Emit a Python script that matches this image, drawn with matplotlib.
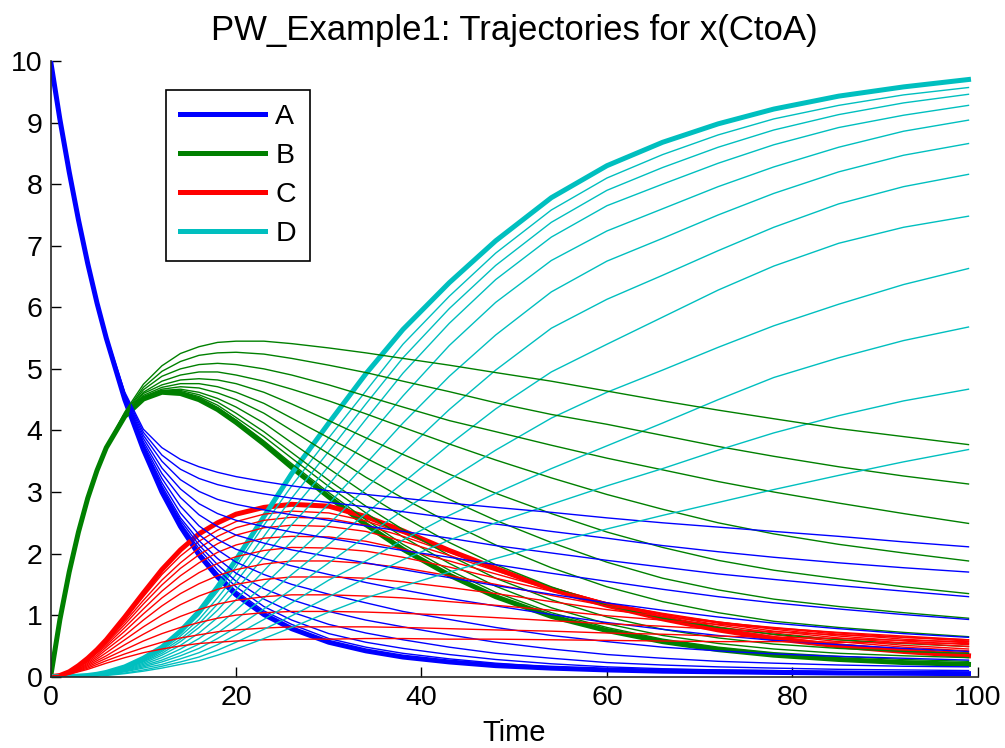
import matplotlib.pyplot as plt

# time samples of the simulated trajectories
T = [0, 1, 2, 3, 4, 5, 6, 8, 10, 12, 14, 16, 18, 20, 23, 26, 30, 34, 38,
     43, 48, 54, 60, 66, 72, 78, 85, 92, 99]

# nominal run, drawn thick
A_NOM = [10, 9.05, 8.2, 7.42, 6.71, 6.07, 5.5, 4.5, 3.69, 3.0, 2.44, 1.98, 1.62, 1.33, 1.01, 0.78, 0.56, 0.42, 0.32,
         0.24, 0.18, 0.14, 0.11, 0.09, 0.08, 0.07, 0.06, 0.055, 0.05]
B_NOM = [0, 0.93, 1.7, 2.35, 2.9, 3.35, 3.72, 4.23, 4.51, 4.62, 4.6, 4.5, 4.34, 4.13, 3.78, 3.4, 2.92, 2.47, 2.07,
         1.65, 1.3, 0.98, 0.75, 0.57, 0.44, 0.35, 0.28, 0.23, 0.2]
C_NOM = [0, 0.02, 0.08, 0.18, 0.3, 0.44, 0.6, 0.97, 1.36, 1.74, 2.06, 2.32, 2.5, 2.64, 2.75, 2.8, 2.77, 2.6, 2.37,
         2.05, 1.76, 1.42, 1.16, 0.94, 0.76, 0.62, 0.5, 0.41, 0.34]
D_NOM = [0, 0, 0, 0.01, 0.02, 0.04, 0.07, 0.16, 0.3, 0.48, 0.74, 1.06, 1.46, 1.9, 2.6, 3.3, 4.12, 4.92, 5.64,
         6.4, 7.08, 7.78, 8.3, 8.68, 8.98, 9.22, 9.43, 9.58, 9.7]

# sweep over CtoA, one row per parameter value (smallest first)
A_SWEEP = [
    [10, 9.05, 8.2, 7.42, 6.71, 6.07, 5.5, 4.5, 3.7, 3.02, 2.47, 2.03, 1.68, 1.39, 1.07, 0.85, 0.62, 0.48, 0.38,
     0.29, 0.22, 0.16, 0.12, 0.1, 0.085, 0.075, 0.065, 0.06, 0.055],
    [10, 9.05, 8.2, 7.42, 6.71, 6.07, 5.5, 4.5, 3.71, 3.04, 2.5, 2.08, 1.74, 1.46, 1.14, 0.92, 0.7, 0.56, 0.46,
     0.36, 0.28, 0.21, 0.16, 0.13, 0.11, 0.1, 0.085, 0.075, 0.07],
    [10, 9.05, 8.2, 7.42, 6.71, 6.07, 5.5, 4.51, 3.72, 3.06, 2.54, 2.14, 1.82, 1.55, 1.26, 1.05, 0.85, 0.71, 0.6,
     0.48, 0.38, 0.3, 0.23, 0.19, 0.16, 0.14, 0.12, 0.11, 0.1],
    [10, 9.05, 8.2, 7.42, 6.71, 6.07, 5.5, 4.51, 3.73, 3.1, 2.58, 2.21, 1.92, 1.68, 1.43, 1.25, 1.06, 0.92, 0.81,
     0.68, 0.56, 0.45, 0.36, 0.3, 0.25, 0.22, 0.19, 0.17, 0.16],
    [10, 9.05, 8.2, 7.42, 6.71, 6.07, 5.5, 4.52, 3.75, 3.15, 2.66, 2.31, 2.06, 1.86, 1.66, 1.5, 1.34, 1.2, 1.06,
     0.93, 0.8, 0.67, 0.57, 0.48, 0.42, 0.37, 0.33, 0.3, 0.27],
    [10, 9.05, 8.2, 7.42, 6.71, 6.07, 5.5, 4.53, 3.78, 3.22, 2.77, 2.45, 2.23, 2.07, 1.92, 1.8, 1.66, 1.53, 1.41,
     1.27, 1.15, 1.01, 0.88, 0.77, 0.67, 0.59, 0.52, 0.46, 0.41],
    [10, 9.05, 8.2, 7.42, 6.71, 6.07, 5.5, 4.54, 3.82, 3.3, 2.91, 2.63, 2.44, 2.3, 2.17, 2.06, 1.95, 1.85, 1.74,
     1.61, 1.48, 1.34, 1.2, 1.08, 0.97, 0.87, 0.78, 0.7, 0.64],
    [10, 9.05, 8.2, 7.42, 6.71, 6.07, 5.51, 4.56, 3.87, 3.39, 3.05, 2.81, 2.65, 2.54, 2.44, 2.35, 2.25, 2.15, 2.05,
     1.94, 1.82, 1.68, 1.55, 1.42, 1.3, 1.2, 1.1, 1.01, 0.93],
    [10, 9.05, 8.2, 7.42, 6.71, 6.08, 5.52, 4.58, 3.92, 3.5, 3.2, 3.01, 2.88, 2.8, 2.71, 2.63, 2.54, 2.45, 2.36,
     2.25, 2.13, 2.01, 1.89, 1.78, 1.67, 1.58, 1.48, 1.39, 1.3],
    [10, 9.05, 8.2, 7.42, 6.72, 6.09, 5.53, 4.6, 3.97, 3.6, 3.37, 3.22, 3.12, 3.05, 2.97, 2.9, 2.83, 2.76, 2.68,
     2.58, 2.48, 2.36, 2.25, 2.13, 2.03, 1.94, 1.85, 1.77, 1.7],
    [10, 9.05, 8.2, 7.43, 6.72, 6.1, 5.55, 4.62, 4.02, 3.72, 3.53, 3.41, 3.32, 3.25, 3.17, 3.1, 3.02, 2.96, 2.9,
     2.82, 2.75, 2.67, 2.58, 2.5, 2.43, 2.36, 2.28, 2.19, 2.11],
]
B_SWEEP = [
    [0, 0.93, 1.7, 2.35, 2.9, 3.35, 3.72, 4.23, 4.51, 4.62, 4.61, 4.52, 4.37, 4.17, 3.83, 3.46, 2.99, 2.55, 2.15,
     1.73, 1.37, 1.04, 0.8, 0.61, 0.48, 0.39, 0.33, 0.28, 0.25],
    [0, 0.93, 1.7, 2.35, 2.9, 3.35, 3.72, 4.23, 4.51, 4.63, 4.63, 4.55, 4.41, 4.21, 3.9, 3.55, 3.09, 2.66, 2.27,
     1.84, 1.47, 1.12, 0.86, 0.67, 0.54, 0.45, 0.38, 0.34, 0.31],
    [0, 0.93, 1.7, 2.35, 2.9, 3.35, 3.72, 4.23, 4.52, 4.64, 4.65, 4.58, 4.46, 4.28, 3.98, 3.64, 3.19, 2.77, 2.39,
     1.97, 1.6, 1.25, 0.97, 0.77, 0.63, 0.53, 0.46, 0.41, 0.38],
    [0, 0.93, 1.7, 2.35, 2.9, 3.35, 3.72, 4.23, 4.53, 4.65, 4.67, 4.62, 4.52, 4.38, 4.12, 3.8, 3.38, 2.97, 2.6,
     2.18, 1.82, 1.46, 1.16, 0.95, 0.8, 0.69, 0.6, 0.54, 0.49],
    [0, 0.93, 1.7, 2.35, 2.9, 3.35, 3.72, 4.23, 4.55, 4.67, 4.71, 4.69, 4.61, 4.5, 4.28, 4.0, 3.62, 3.24, 2.9,
     2.5, 2.14, 1.77, 1.46, 1.22, 1.04, 0.9, 0.8, 0.72, 0.65],
    [0, 0.93, 1.7, 2.35, 2.9, 3.35, 3.72, 4.24, 4.57, 4.7, 4.76, 4.76, 4.71, 4.62, 4.44, 4.2, 3.88, 3.55, 3.25,
     2.88, 2.54, 2.18, 1.86, 1.6, 1.41, 1.26, 1.14, 1.04, 0.95],
    [0, 0.93, 1.7, 2.35, 2.9, 3.35, 3.72, 4.25, 4.6, 4.74, 4.82, 4.84, 4.82, 4.76, 4.62, 4.43, 4.16, 3.88, 3.61,
     3.29, 2.98, 2.65, 2.35, 2.1, 1.89, 1.73, 1.59, 1.46, 1.35],
    [0, 0.93, 1.7, 2.35, 2.9, 3.35, 3.72, 4.26, 4.62, 4.8, 4.9, 4.95, 4.95, 4.9, 4.8, 4.67, 4.48, 4.27, 4.05,
     3.78, 3.52, 3.23, 2.96, 2.72, 2.5, 2.32, 2.15, 2.01, 1.88],
    [0, 0.93, 1.7, 2.35, 2.9, 3.35, 3.72, 4.27, 4.66, 4.88, 5.0, 5.07, 5.09, 5.07, 5.0, 4.9, 4.74, 4.56, 4.38,
     4.16, 3.98, 3.76, 3.55, 3.36, 3.17, 3.0, 2.82, 2.65, 2.49],
    [0, 0.93, 1.7, 2.35, 2.9, 3.35, 3.72, 4.28, 4.7, 4.96, 5.12, 5.22, 5.26, 5.27, 5.24, 5.17, 5.06, 4.94, 4.8,
     4.63, 4.45, 4.26, 4.1, 3.92, 3.74, 3.58, 3.41, 3.26, 3.13],
    [0, 0.93, 1.7, 2.35, 2.9, 3.36, 3.73, 4.3, 4.75, 5.05, 5.25, 5.36, 5.43, 5.45, 5.45, 5.41, 5.34, 5.26, 5.17,
     5.06, 4.94, 4.8, 4.64, 4.48, 4.33, 4.19, 4.03, 3.9, 3.77],
]
C_SWEEP = [
    [0, 0.02, 0.08, 0.17, 0.29, 0.42, 0.58, 0.93, 1.3, 1.66, 1.96, 2.2, 2.38, 2.52, 2.64, 2.69, 2.66, 2.53, 2.33,
     2.05, 1.76, 1.44, 1.17, 0.95, 0.78, 0.65, 0.53, 0.45, 0.39],
    [0, 0.02, 0.08, 0.17, 0.28, 0.41, 0.56, 0.89, 1.24, 1.57, 1.85, 2.09, 2.28, 2.42, 2.54, 2.59, 2.57, 2.46, 2.28,
     2.02, 1.75, 1.45, 1.19, 0.98, 0.81, 0.68, 0.57, 0.48, 0.42],
    [0, 0.02, 0.07, 0.16, 0.27, 0.4, 0.54, 0.85, 1.18, 1.49, 1.76, 1.98, 2.16, 2.3, 2.42, 2.46, 2.44, 2.36, 2.2,
     1.97, 1.72, 1.44, 1.2, 1.0, 0.84, 0.71, 0.6, 0.51, 0.45],
    [0, 0.02, 0.07, 0.15, 0.26, 0.38, 0.51, 0.8, 1.1, 1.39, 1.64, 1.85, 2.02, 2.14, 2.25, 2.28, 2.27, 2.2, 2.07,
     1.88, 1.67, 1.42, 1.2, 1.02, 0.87, 0.74, 0.63, 0.55, 0.49],
    [0, 0.02, 0.07, 0.15, 0.24, 0.35, 0.48, 0.74, 1.02, 1.28, 1.5, 1.69, 1.84, 1.95, 2.05, 2.1, 2.09, 2.04, 1.94,
     1.78, 1.6, 1.39, 1.19, 1.03, 0.89, 0.77, 0.66, 0.58, 0.52],
    [0, 0.02, 0.06, 0.13, 0.22, 0.32, 0.44, 0.67, 0.92, 1.15, 1.35, 1.51, 1.64, 1.74, 1.83, 1.88, 1.88, 1.84, 1.77,
     1.64, 1.5, 1.32, 1.15, 1.01, 0.89, 0.79, 0.69, 0.61, 0.55],
    [0, 0.02, 0.06, 0.12, 0.2, 0.29, 0.39, 0.6, 0.81, 1.0, 1.17, 1.31, 1.42, 1.5, 1.58, 1.62, 1.62, 1.6, 1.54,
     1.45, 1.35, 1.22, 1.09, 0.98, 0.88, 0.8, 0.71, 0.64, 0.58],
    [0, 0.01, 0.05, 0.11, 0.18, 0.26, 0.34, 0.52, 0.69, 0.85, 0.98, 1.09, 1.18, 1.24, 1.3, 1.33, 1.33, 1.31, 1.28,
     1.22, 1.16, 1.08, 0.99, 0.92, 0.85, 0.79, 0.72, 0.66, 0.6],
    [0, 0.01, 0.05, 0.1, 0.16, 0.23, 0.3, 0.44, 0.58, 0.7, 0.8, 0.88, 0.95, 1.0, 1.04, 1.06, 1.06, 1.05, 1.03,
     1.0, 0.96, 0.91, 0.86, 0.82, 0.77, 0.73, 0.68, 0.64, 0.6],
    [0, 0.01, 0.04, 0.09, 0.14, 0.2, 0.26, 0.37, 0.47, 0.56, 0.63, 0.68, 0.73, 0.76, 0.79, 0.81, 0.81, 0.81, 0.8,
     0.78, 0.76, 0.74, 0.71, 0.69, 0.66, 0.64, 0.62, 0.59, 0.57],
    [0, 0.01, 0.04, 0.08, 0.12, 0.17, 0.22, 0.31, 0.39, 0.45, 0.5, 0.54, 0.56, 0.58, 0.6, 0.61, 0.61, 0.62, 0.62,
     0.61, 0.61, 0.6, 0.59, 0.58, 0.57, 0.57, 0.56, 0.55, 0.54],
]
D_SWEEP = [
    [0, 0, 0, 0.01, 0.02, 0.04, 0.07, 0.15, 0.28, 0.46, 0.7, 1.0, 1.38, 1.79, 2.46, 3.1, 3.88, 4.64, 5.4,
     6.18, 6.88, 7.58, 8.1, 8.48, 8.8, 9.06, 9.28, 9.45, 9.57],
    [0, 0, 0, 0.01, 0.02, 0.04, 0.06, 0.14, 0.27, 0.43, 0.66, 0.93, 1.28, 1.66, 2.28, 2.9, 3.66, 4.43, 5.18,
     5.98, 6.68, 7.38, 7.9, 8.27, 8.6, 8.88, 9.13, 9.32, 9.46],
    [0, 0, 0, 0.01, 0.02, 0.04, 0.06, 0.13, 0.25, 0.41, 0.61, 0.86, 1.18, 1.54, 2.12, 2.7, 3.42, 4.18, 4.93,
     5.74, 6.45, 7.14, 7.65, 8.0, 8.34, 8.64, 8.92, 9.12, 9.28],
    [0, 0, 0, 0.01, 0.02, 0.03, 0.06, 0.13, 0.24, 0.38, 0.57, 0.8, 1.08, 1.41, 1.94, 2.47, 3.12, 3.85, 4.56,
     5.38, 6.08, 6.76, 7.24, 7.6, 7.96, 8.28, 8.6, 8.86, 9.04],
    [0, 0, 0, 0.01, 0.02, 0.03, 0.05, 0.12, 0.22, 0.35, 0.51, 0.71, 0.96, 1.25, 1.72, 2.2, 2.81, 3.46, 4.12,
     4.88, 5.55, 6.25, 6.75, 7.12, 7.5, 7.85, 8.2, 8.47, 8.66],
    [0, 0, 0, 0.01, 0.02, 0.03, 0.05, 0.11, 0.2, 0.31, 0.45, 0.62, 0.83, 1.08, 1.49, 1.92, 2.48, 3.06, 3.63,
     4.34, 4.98, 5.66, 6.13, 6.52, 6.92, 7.3, 7.68, 7.96, 8.16],
    [0, 0, 0, 0.01, 0.01, 0.02, 0.04, 0.1, 0.18, 0.27, 0.39, 0.53, 0.71, 0.93, 1.28, 1.66, 2.15, 2.65, 3.15,
     3.77, 4.35, 4.95, 5.4, 5.84, 6.28, 6.67, 7.04, 7.3, 7.48],
    [0, 0, 0, 0.01, 0.01, 0.02, 0.04, 0.09, 0.16, 0.24, 0.34, 0.46, 0.62, 0.8, 1.1, 1.42, 1.85, 2.28, 2.7,
     3.2, 3.68, 4.2, 4.62, 4.98, 5.35, 5.7, 6.05, 6.37, 6.63],
    [0, 0, 0, 0.01, 0.01, 0.02, 0.03, 0.08, 0.14, 0.2, 0.29, 0.39, 0.52, 0.68, 0.93, 1.2, 1.57, 1.88, 2.22,
     2.62, 2.98, 3.38, 3.75, 4.12, 4.5, 4.86, 5.18, 5.46, 5.68],
    [0, 0, 0, 0, 0.01, 0.02, 0.03, 0.06, 0.11, 0.17, 0.24, 0.32, 0.43, 0.56, 0.77, 0.99, 1.3, 1.6, 1.9,
     2.22, 2.5, 2.8, 3.1, 3.38, 3.68, 3.96, 4.24, 4.48, 4.67],
    [0, 0, 0, 0, 0.01, 0.02, 0.02, 0.05, 0.09, 0.14, 0.2, 0.26, 0.35, 0.45, 0.62, 0.8, 1.05, 1.28, 1.47,
     1.7, 1.92, 2.17, 2.4, 2.62, 2.83, 3.04, 3.27, 3.49, 3.69],
]

SPECIES = ["A", "B", "C", "D"]
COLORS = ["#0000ff", "#008000", "#ff0000", "#00bfbf"]

plt.rcParams["font.family"] = ["Liberation Sans", "DejaVu Sans"]


def main():
    fig = plt.figure(figsize=(10.05, 7.48), dpi=100)
    ax = fig.add_axes([0.0504, 0.0953, 0.9225, 0.8231])

    # nominal trajectories first (these carry the legend entries)
    nominal = [A_NOM, B_NOM, C_NOM, D_NOM]
    for i in range(4):
        ax.plot(T, nominal[i], color=COLORS[i], lw=3.6, label=SPECIES[i],
                solid_joinstyle="round")

    # then the thin sweep lines, species by species for each CtoA value
    sweeps = [A_SWEEP, B_SWEEP, C_SWEEP, D_SWEEP]
    for j in range(len(A_SWEEP)):
        for i in range(4):
            ax.plot(T, sweeps[i][j], color=COLORS[i], lw=1.0)

    ax.set_xlim(0, 100)
    ax.set_ylim(0, 10)
    ax.set_xticks(range(0, 101, 20))
    ax.set_yticks(range(0, 11))
    ax.tick_params(direction="in", length=7, width=1, labelsize=20.5, pad=6)
    for s in ["top", "right"]:
        ax.spines[s].set_visible(False)
    for s in ["left", "bottom"]:
        ax.spines[s].set_linewidth(1.2)
        ax.spines[s].set_color("#262626")

    ax.set_title("PW_Example1: Trajectories for x(CtoA)", fontsize=25, pad=15)
    ax.set_xlabel("Time", fontsize=21, labelpad=6)

    leg = ax.legend(loc="upper left", bbox_to_anchor=(0.124, 0.953), borderaxespad=0,
                    fontsize=20.5, handlelength=3.0, handletextpad=0.35, labelspacing=0.45,
                    borderpad=0.5, fancybox=False, framealpha=1)
    leg.get_frame().set_edgecolor("black")
    leg.get_frame().set_linewidth(1.2)

    plt.savefig("out.png", dpi=100)


if __name__ == "__main__":
    main()
